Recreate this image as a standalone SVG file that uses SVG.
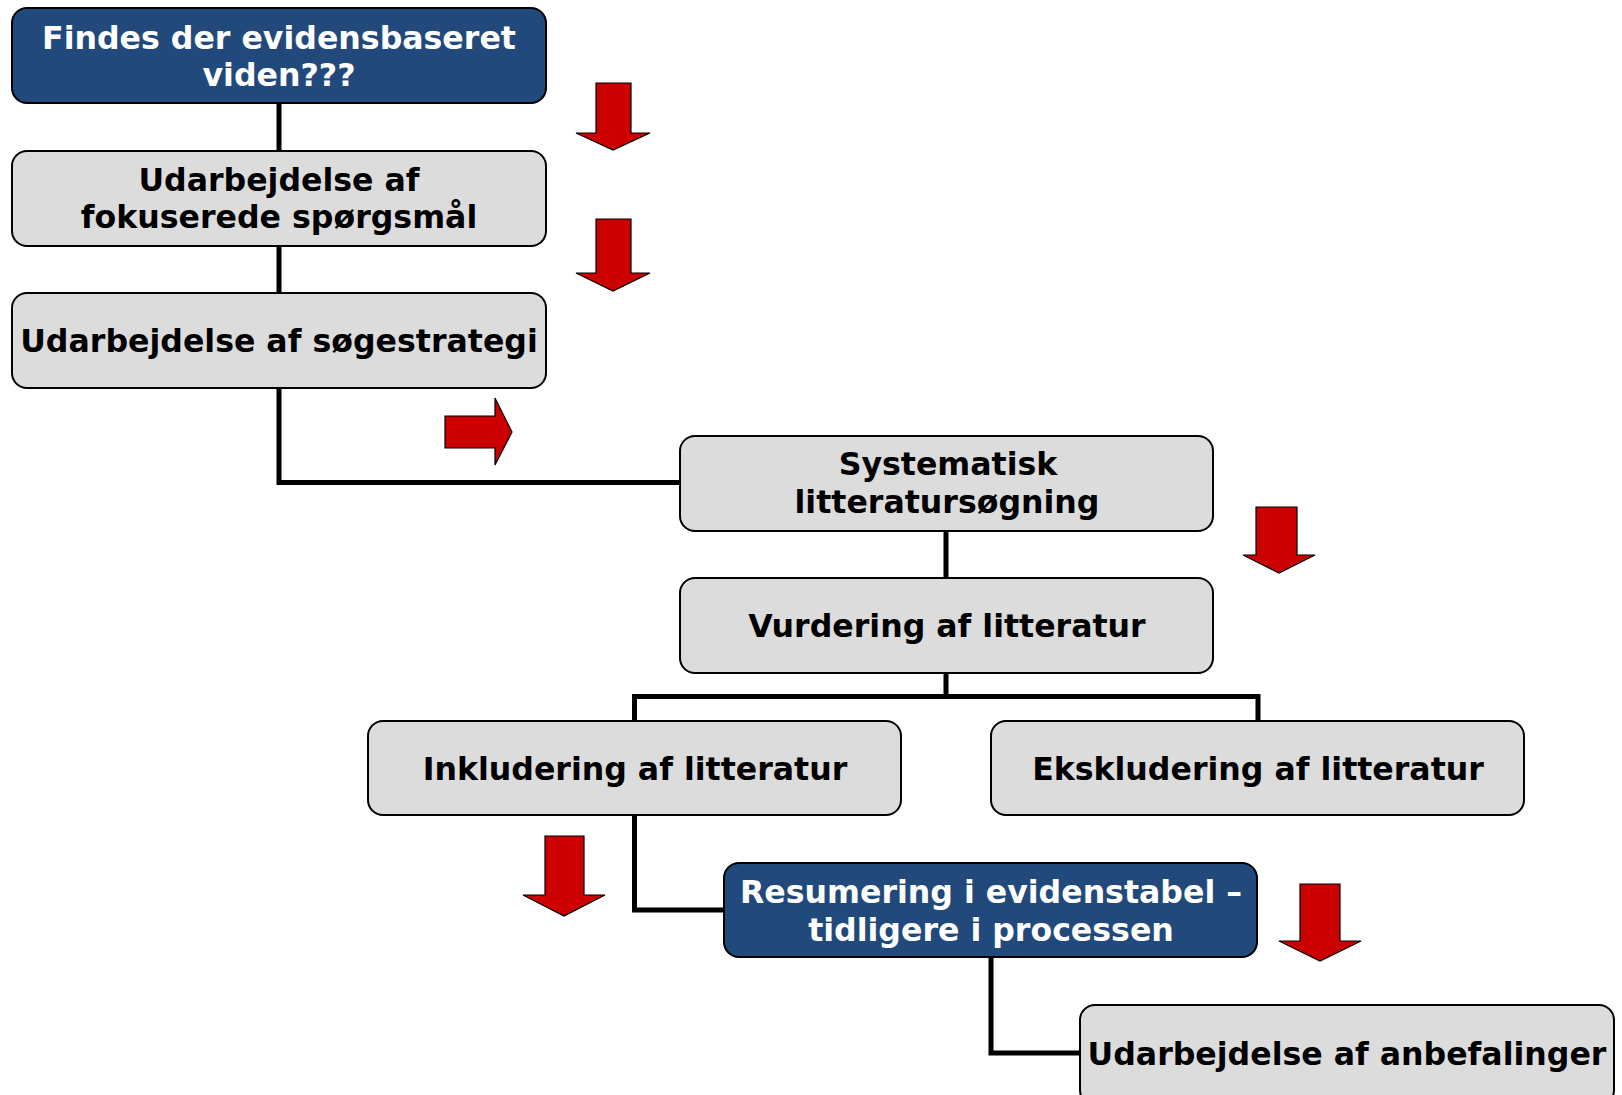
<svg xmlns="http://www.w3.org/2000/svg" width="1622" height="1095" viewBox="0 0 1622 1095">
<style>
.box{stroke:#000;stroke-width:2}
.blue{fill:#21497C}
.gray{fill:#DCDCDC}
.t{font-family:"DejaVu Sans",Verdana,sans-serif;font-weight:bold;font-size:31.6px;text-anchor:middle}
.tw{fill:#fff}
.tb{fill:#000}
.conn{fill:none;stroke:#000;stroke-width:5}
.arr{fill:#CC0000;stroke:#000;stroke-width:1.2}
</style>
<rect width="1622" height="1095" fill="#fff"/>
<g id="connectors">
<path class="conn" d="M279,103 V151"/>
<path class="conn" d="M279,245 V293"/>
<path class="conn" d="M279,388 V482.5 H680"/>
<path class="conn" d="M946,531 V578"/>
<path class="conn" d="M946,673 V696.5 M634.5,721 V696.5 H1258 V721"/>
<path class="conn" d="M634.5,815 V910 H725"/>
<path class="conn" d="M991,957 V1053 H1081"/>
</g>
<g id="node1"><rect class="box blue" x="12" y="8" width="534" height="95" rx="15"/>
<text class="t tw" x="279" y="49">Findes der evidensbaseret</text><text class="t tw" x="279" y="86">viden???</text></g>
<g id="node2"><rect class="box gray" x="12" y="151" width="534" height="95" rx="15"/>
<text class="t tb" x="279" y="191">Udarbejdelse af</text><text class="t tb" x="279" y="228">fokuserede spørgsmål</text></g>
<g id="node3"><rect class="box gray" x="12" y="293" width="534" height="95" rx="15"/>
<text class="t tb" x="279" y="352">Udarbejdelse af søgestrategi</text></g>
<g id="node4"><rect class="box gray" x="680" y="436" width="533" height="95" rx="15"/>
<text class="t tb" x="948" y="475">Systematisk</text><text class="t tb" x="947" y="513">litteratursøgning</text></g>
<g id="node5"><rect class="box gray" x="680" y="578" width="533" height="95" rx="15"/>
<text class="t tb" x="947" y="637">Vurdering af litteratur</text></g>
<g id="node6"><rect class="box gray" x="368" y="721" width="533" height="94" rx="15"/>
<text class="t tb" x="635" y="780">Inkludering af litteratur</text></g>
<g id="node7"><rect class="box gray" x="991" y="721" width="533" height="94" rx="15"/>
<text class="t tb" x="1258" y="780">Ekskludering af litteratur</text></g>
<g id="node8"><rect class="box blue" x="724" y="863" width="533" height="94" rx="15"/>
<text class="t tw" x="991" y="903">Resumering i evidenstabel –</text><text class="t tw" x="991" y="941">tidligere i processen</text></g>
<g id="node9"><rect class="box gray" x="1080" y="1005" width="534" height="100" rx="15"/>
<text class="t tb" x="1347" y="1065">Udarbejdelse af anbefalinger</text></g>
<g id="arrows">
<polygon class="arr" points="596,83 631,83 631,133 650,133 613,150 576,133 596,133"/>
<polygon class="arr" points="596,219 631,219 631,273 650,273 613,291 576,273 596,273"/>
<polygon class="arr" points="445,416 495,416 495,398 512,432 495,465 495,448 445,448"/>
<polygon class="arr" points="1256,507 1297,507 1297,555 1315,555 1279,573 1243,555 1256,555"/>
<polygon class="arr" points="545,836 584,836 584,895 605,895 564,916 523,895 545,895"/>
<polygon class="arr" points="1300,884 1340,884 1340,941 1361,941 1320,961 1279,941 1300,941"/>
</g>
</svg>
